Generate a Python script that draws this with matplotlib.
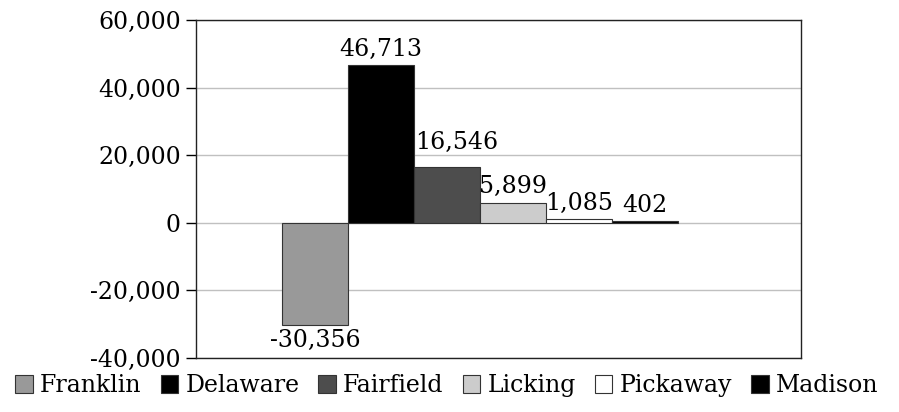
import numpy as np
import matplotlib.pyplot as plt
from matplotlib.ticker import FuncFormatter

counties = ['Franklin', 'Delaware', 'Fairfield', 'Licking', 'Pickaway', 'Madison']
values = [-30356, 46713, 16546, 5899, 1085, 402]
colors = ['#999999', '#000000', '#4d4d4d', '#cccccc', '#ffffff', '#000000']

plt.rcParams['font.family'] = ['DejaVu Serif']
fs = 17

fig = plt.figure(figsize=(8.99, 4.12), dpi=100)
ax = fig.add_axes([196/899, 1 - 358/412, 605/899, 338/412])

x = np.arange(len(counties))
for i, (name, v, c) in enumerate(zip(counties, values, colors)):
    ax.bar(x[i], v, width=1.0, color=c, edgecolor='#333333', linewidth=0.8, label=name, zorder=3)
    if v >= 0:
        # Fairfield label is pushed up and right so it clears the Delaware bar
        dx, dy = (0.15, 3800) if name == 'Fairfield' else (0, 1300)
        ax.text(x[i] + dx, v + dy, f'{v:,}', ha='center', va='bottom', fontsize=fs)
    else:
        ax.text(x[i], v - 1000, f'{v:,}', ha='center', va='top', fontsize=fs)

ax.set_xlim(-0.5 - 86/66, 5.5 + 123/66)
ax.set_ylim(-40000, 60000)
ax.set_yticks(np.arange(-40000, 60001, 20000))
ax.yaxis.set_major_formatter(FuncFormatter(lambda v, p: f'{int(v):,}'))
ax.tick_params(axis='y', labelsize=fs, length=7, width=1, direction='out', pad=4)
ax.set_xticks([])
ax.grid(axis='y', color='#c0c0c0', linewidth=1, zorder=0)
for s in ax.spines.values():
    s.set_color('#222222')
    s.set_linewidth(1)

fig.legend(loc='center', bbox_to_anchor=(0.497, 0.064), ncol=6, frameon=False,
           fontsize=fs, handlelength=0.75, handleheight=0.75, handletextpad=0.3,
           columnspacing=0.8, borderaxespad=0)

fig.savefig('out.png', dpi=100)
